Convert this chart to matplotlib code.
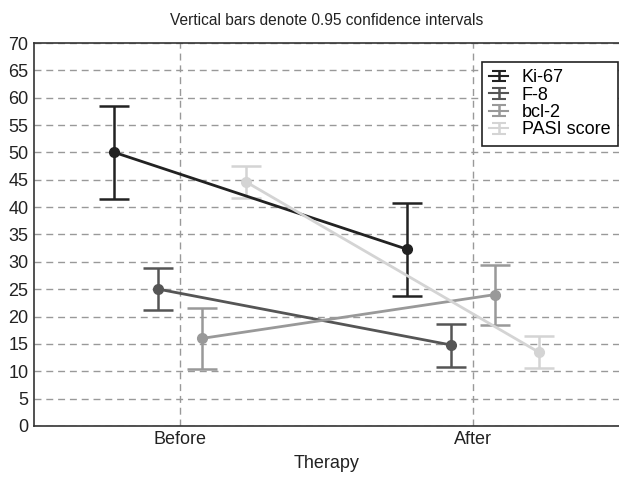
import matplotlib
matplotlib.use("Agg")
import matplotlib.pyplot as plt
import numpy as np
from matplotlib.container import ErrorbarContainer
from matplotlib.legend_handler import HandlerErrorbar
from matplotlib.lines import Line2D

plt.rcParams['font.family'] = ['Liberation Sans', 'DejaVu Sans']

#data
categories = ["Before", "After"]
series = ["Ki-67", "F-8", "bcl-2", "PASI score"]
means = [[50.0, 32.3], [25.0, 14.8], [16.0, 24.0], [44.6, 13.5]]
lower = [[41.5, 23.8], [21.2, 10.8], [10.4, 18.5], [41.7, 10.6]]
upper = [[58.5, 40.8], [28.9, 18.6], [21.6, 29.4], [47.5, 16.4]]
colors = ["#222222", "#555555", "#999999", "#d4d4d4"]
offsets = [-0.225, -0.075, 0.075, 0.225]

fig = plt.figure(figsize=(6.19, 4.78), dpi=100)
ax = fig.add_axes([0.055, 0.109, 0.945, 0.801])

xbase = np.arange(len(categories))
for i in range(len(series)):
    m = np.array(means[i])
    yerr = [m - np.array(lower[i]), np.array(upper[i]) - m]
    #errorbar without marker so legend shows the plain bar symbol
    ax.errorbar(xbase + offsets[i], m, yerr=yerr, color=colors[i], lw=2,
                capsize=10.5, capthick=1.8, elinewidth=1.8,
                label=series[i], zorder=3)
    ax.plot(xbase + offsets[i], m, "o", color=colors[i], ms=7, zorder=4)

ax.set_xlim(-0.5, 1.5)
ax.set_ylim(0, 70)
ax.set_yticks(np.arange(0, 71, 5))
ax.set_xticks(xbase)
ax.set_xticklabels(categories)
ax.tick_params(length=0, labelsize=13, pad=4, colors="#222222")
ax.grid(True, ls=(0, (5, 3.5)), color="#999999", lw=1)
ax.spines['right'].set_visible(False)
for s in ['left', 'bottom', 'top']:
    ax.spines[s].set_color("#333333")
    ax.spines[s].set_linewidth(1.2)

ax.set_xlabel("Therapy", fontsize=13, color="#222222", labelpad=5)
ax.set_title("Vertical bars denote 0.95 confidence intervals", fontsize=11.2,
             color="#222222", pad=13)

leg = ax.legend(loc="upper right", fontsize=13, fancybox=False, framealpha=1,
                edgecolor="#222222", handlelength=1.0, handletextpad=0.8,
                borderpad=0.4, labelspacing=0.02, borderaxespad=0,
                bbox_to_anchor=(0.998, 0.95),
                handler_map={ErrorbarContainer: HandlerErrorbar(yerr_size=0.3)})
leg.get_frame().set_linewidth(1.2)
#shrink the caps inside the legend symbols
for ln in leg.findobj(Line2D):
    if ln.get_marker() == "_":
        ln.set_markersize(10)
        ln.set_markeredgewidth(1.5)
    else:
        ln.set_linewidth(1.5)

fig.savefig("out.png", dpi=100)
